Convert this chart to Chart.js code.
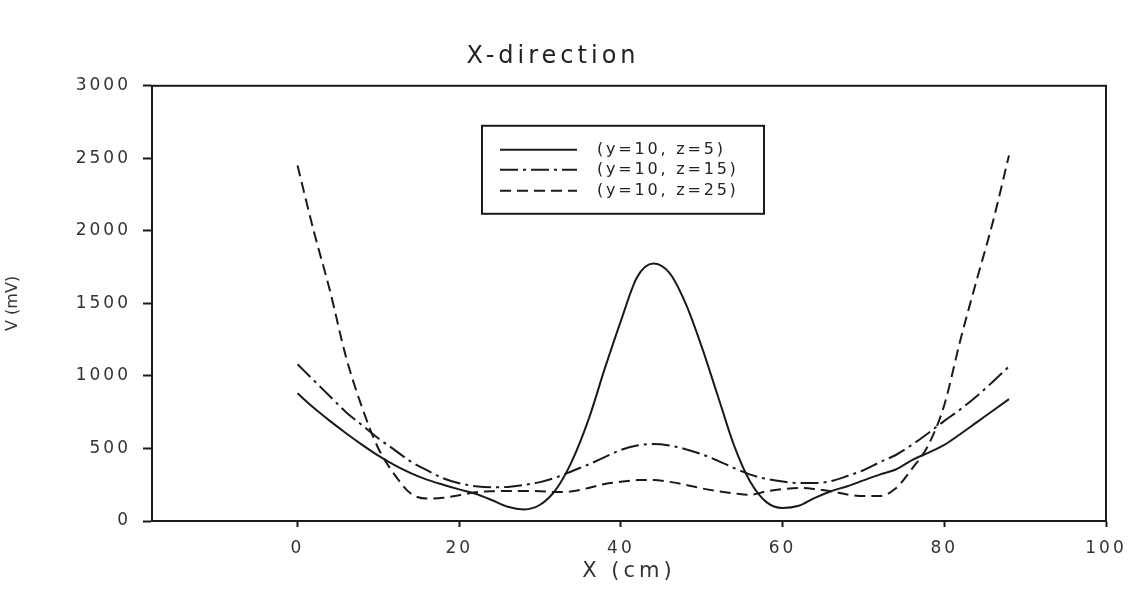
<!DOCTYPE html>
<html>
<head>
<meta charset="utf-8">
<script src="https://cdn.jsdelivr.net/npm/chart.js@4/dist/chart.umd.min.js"></script>
<style>
  html, body { margin: 0; padding: 0; background: #fff; }
  #wrap { width: 1132px; height: 594px; }
</style>
</head>
<body>
<div id="wrap"><canvas id="lineChart"></canvas></div>
<script>
// X (cm) positions along the line
const xCm = [0, 2, 4, 6, 8, 10, 12, 14, 16, 18, 20, 22, 24, 26, 28, 30, 32, 34, 36, 38, 40, 42, 44,
             46, 48, 50, 52, 54, 56, 58, 60, 62, 64, 66, 68, 70, 72, 74, 76, 78, 80, 82, 84, 86, 88];

// V (mV)
const vZ5 = [880, 780, 690, 605, 525, 450, 385, 330, 285, 250, 218, 188, 145, 98, 80, 112, 220, 420, 700, 1050, 1380, 1680, 1775,
             1710, 1500, 1200, 860, 520, 270, 130, 90, 105, 160, 205, 240, 280, 320, 355, 420, 470, 525, 600, 680, 760, 840];
const vZ15 = [1080, 970, 860, 750, 660, 570, 490, 410, 350, 295, 260, 240, 232, 235, 248, 268, 300, 345, 390, 440, 490, 520, 530,
              520, 495, 460, 415, 365, 320, 290, 272, 262, 262, 275, 310, 350, 405, 455, 525, 605, 690, 770, 860, 960, 1065];
const vZ25 = [2450, 2000, 1590, 1130, 780, 500, 320, 190, 155, 160, 178, 198, 205, 207, 207, 205, 200, 205, 228, 255, 270, 282, 283,
              270, 250, 225, 205, 190, 180, 205, 220, 228, 220, 205, 182, 172, 172, 225, 360, 520, 800, 1250, 1660, 2060, 2520];

const seriesLabels = ['(y=10, z=5)', '(y=10, z=15)', '(y=10, z=25)'];
const xTicks = [0, 20, 40, 60, 80, 100];
const yTicks = [0, 500, 1000, 1500, 2000, 2500, 3000];

const ink = '#1a1a1a';
const fontFam = '"DejaVu Sans", Arial, sans-serif';

// letter spacing helper, the original text is stretched wide
function spaced(obj, fn, px) {
    const orig = obj[fn].bind(obj);
    obj[fn] = function (...args) {
        const c = this.ctx;
        const prev = c.letterSpacing;
        c.letterSpacing = px;
        orig(...args);
        c.letterSpacing = prev;
    };
}

const frame = {
    id: 'frame',
    beforeUpdate(chart) {
        chart.ctx.letterSpacing = '3px';
    },
    afterLayout(chart) {
        if (!chart.$patched) {
            spaced(chart.scales.y, 'drawTitle', '0px');
            spaced(chart.scales.x, 'drawTitle', '4px');
            spaced(chart.titleBlock, 'draw', '4px');
            chart.$patched = true;
        }
    },
    beforeDraw(chart) {
        chart.ctx.letterSpacing = '3px';
    },
    afterDraw(chart) {
        const { ctx, chartArea: a } = chart;
        ctx.save();
        ctx.strokeStyle = ink;
        ctx.lineWidth = 2;
        ctx.strokeRect(a.left, a.top, a.right - a.left, a.bottom - a.top);

        // legend box inside the plot
        const bx = a.left + 330, by = a.top + 40, bw = 282, bh = 88;
        ctx.strokeRect(bx, by, bw, bh);
        ctx.font = '16px ' + fontFam;
        ctx.letterSpacing = '2.8px';
        ctx.textBaseline = 'middle';
        ctx.textAlign = 'left';
        const rows = [24, 44, 65];
        chart.data.datasets.forEach((ds, i) => {
            const y = by + rows[i];
            ctx.setLineDash(ds.borderDash || []);
            ctx.lineWidth = 2;
            ctx.strokeStyle = ds.borderColor;
            ctx.beginPath();
            ctx.moveTo(bx + 18, y);
            ctx.lineTo(bx + 95, y);
            ctx.stroke();
            ctx.fillStyle = '#222';
            ctx.fillText(ds.label, bx + 115, y);
        });
        ctx.restore();
    }
};

const lineChart = document.querySelector('#lineChart');
const graph = new Chart(lineChart, {
    type: 'line',
    data: {
        labels: xCm,
        datasets: [
            {
                label: seriesLabels[0],
                data: xCm.map((x, i) => ({ x: x, y: vZ5[i] })),
                borderColor: ink,
                borderWidth: 2,
            },
            {
                label: seriesLabels[1],
                data: xCm.map((x, i) => ({ x: x, y: vZ15[i] })),
                borderColor: ink,
                borderWidth: 2,
                borderDash: [18, 5, 3, 5],
            },
            {
                label: seriesLabels[2],
                data: xCm.map((x, i) => ({ x: x, y: vZ25[i] })),
                borderColor: ink,
                borderWidth: 2,
                borderDash: [11, 6],
            },
        ],
    },
    options: {
        responsive: true,
        maintainAspectRatio: false,
        animation: false,
        layout: { padding: { top: 0, right: 26, bottom: 0, left: 0 } },
        elements: {
            point: { radius: 0 },
            line: { cubicInterpolationMode: 'monotone', fill: false },
        },
        scales: {
            x: {
                type: 'linear',
                min: -18,
                max: 100,
                afterBuildTicks: (scale) => { scale.ticks = xTicks.map(v => ({ value: v })); },
                afterFit: (scale) => { scale.height = 73; scale.paddingRight = 0; },
                border: { color: ink, width: 2 },
                grid: { drawOnChartArea: false, tickLength: 6, tickColor: ink, tickWidth: 2 },
                ticks: {
                    color: '#333', padding: 11, maxRotation: 0,
                    font: { family: fontFam, size: 17 },
                    callback: (v) => String(v),
                },
                title: {
                    display: true,
                    text: 'X (cm)',
                    color: '#333',
                    padding: { top: 10, bottom: 10 },
                    font: { family: fontFam, size: 21 },
                },
            },
            y: {
                min: 0,
                max: 3000,
                afterBuildTicks: (scale) => { scale.ticks = yTicks.map(v => ({ value: v })); },
                afterFit: (scale) => { scale.width = 152; },
                border: { color: ink, width: 2 },
                grid: { drawOnChartArea: false, tickLength: 9, tickColor: ink, tickWidth: 2 },
                ticks: {
                    color: '#333', padding: 12,
                    font: { family: fontFam, size: 17 },
                    callback: (v) => String(v),
                },
                title: {
                    display: true,
                    text: 'V (mV)',
                    color: '#333',
                    padding: { top: 3, bottom: 3 },
                    font: { family: fontFam, size: 16 },
                },
            },
        },
        plugins: {
            legend: { display: false },
            tooltip: { enabled: false },
            title: {
                display: true,
                text: 'X-direction',
                color: '#222',
                padding: { top: 42, bottom: 15 },
                font: { family: fontFam, size: 24, weight: 'normal' },
            },
        },
    },
    plugins: [frame],
});
</script>
</body>
</html>
